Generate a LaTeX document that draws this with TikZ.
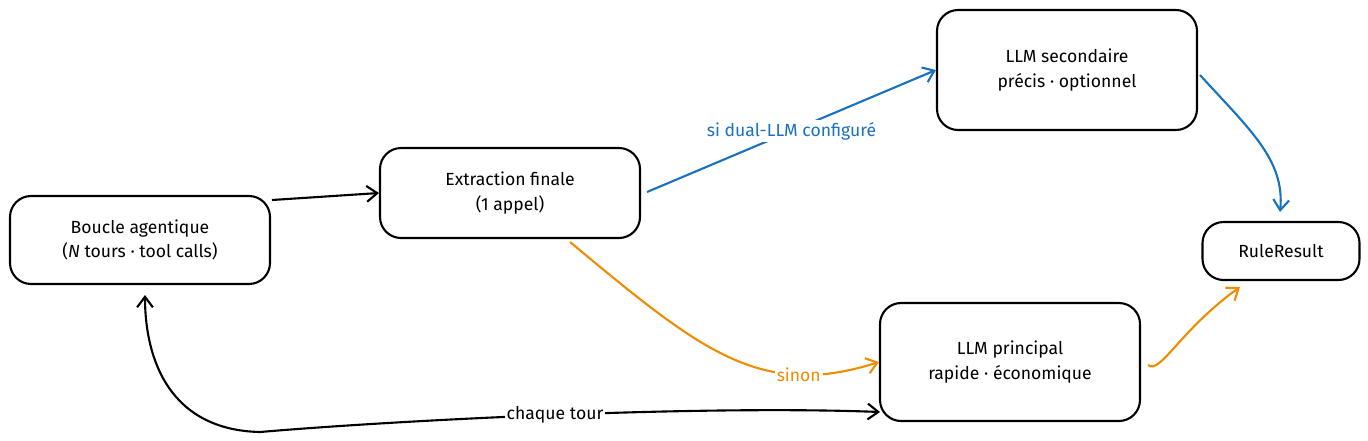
\documentclass[tikz,border=0pt]{standalone}
\usepackage{fontspec}
\setmainfont{Fira Sans}
\usetikzlibrary{arrows.meta}
\definecolor{blu}{HTML}{1971C2}
\definecolor{org}{HTML}{F08C00}
\begin{document}
\begin{tikzpicture}[x=0.02cm,y=-0.02cm,
  box/.style = {draw, line width=1.2pt, rounded corners=12pt, align=center, font=\fontsize{10}{14}\selectfont},
  lbl/.style = {font=\fontsize{10}{12}\selectfont, fill=white, inner sep=1pt},
  arr/.style = {-{Straight Barb[length=6pt,width=9pt]}, line width=1.2pt}]
\useasboundingbox (0,0) rectangle (1368,440);
\node[box, minimum width=260*0.02cm, minimum height=88*0.02cm] (loop) at (140,240) {Boucle agentique\\(\textit{N} tours · tool calls)};
\node[box, minimum width=260*0.02cm, minimum height=90*0.02cm] (extr) at (510,193) {Extraction finale\\(1 appel)};
\node[box, minimum width=260*0.02cm, minimum height=120*0.02cm] (sec) at (1067,70) {LLM secondaire\\précis · optionnel};
\node[box, minimum width=157*0.02cm, minimum height=58*0.02cm] (res) at (1281,251) {RuleResult};
\node[box, minimum width=260*0.02cm, minimum height=118*0.02cm] (main) at (1010,362) {LLM principal\\rapide · économique};
\coordinate (c1) at (272,200);
\coordinate (c2) at (647,192);
\coordinate (c3) at (570,242);
\coordinate (c4) at (1148,365);
\coordinate (c5) at (1200,75);
\coordinate (c6) at (880,412);
\draw[arr] (c1) -- (extr.west);
\draw[arr, blu] (c2) -- node[lbl, text=blu, pos=0.5] {si dual-LLM configuré} (sec.west);
\draw[arr, blu] (c5) .. controls (1250,130) and (1285,160) .. (1280,212);
\draw[arr, org] (c3) .. controls (700,350) and (760,400) .. node[lbl, text=org, pos=0.75] {sinon} (main.west);
\draw[arr, org] (c4) .. controls (1160,375) and (1180,330) .. (1240,287);
\draw[arr, {Straight Barb[length=6pt,width=9pt]}-{Straight Barb[length=6pt,width=9pt]}] (c6) .. controls (700,405) and (400,420) .. node[lbl, pos=0.5] {chaque tour} (260,432) .. controls (170,430) and (145,360) .. (145,295);
\end{tikzpicture}
\end{document}
